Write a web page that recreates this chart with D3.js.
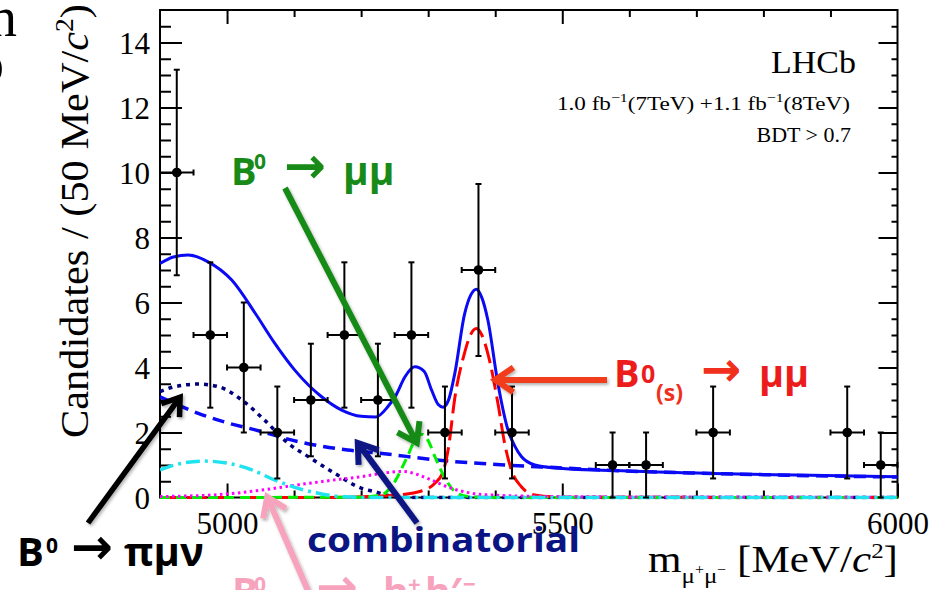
<!DOCTYPE html>
<html>
<head>
<meta charset="utf-8">
<script src="https://cdn.jsdelivr.net/npm/d3@7"></script>
<style>
  html, body { margin: 0; padding: 0; background: #ffffff; }
  svg { display: block; }
</style>
</head>
<body>
<svg id="chart" width="946" height="590"></svg>
<script>
// ---- measured candidates: 50 MeV/c^2 bins ----
const binCentres = [4925, 4975, 5025, 5075, 5125, 5175, 5225, 5275, 5325, 5375, 5425,
                    5475, 5525, 5575, 5625, 5675, 5725, 5775, 5825, 5875, 5925, 5975];
const candidates = [10, 5, 4, 2, 3, 5, 3, 5, 2, 7, 2,
                    0, 0, 1, 1, 0, 2, 0, 0, 0, 2, 1];
const binWidth = 50;

// ---- fit model, [mass, candidates per bin] ----
const totalFit = [[4900,7.20],[4920,7.40],[4942,7.46],[4971,7.26],[5007,6.69],[5042,5.67],
  [5071,4.75],[5101,3.92],[5141,3.10],[5171,2.69],[5200,2.50],[5222,2.48],[5240,2.80],
  [5252,3.15],[5265,3.70],[5280,4.02],[5294,3.88],[5305,3.31],[5315,2.86],[5322,2.78],
  [5330,2.98],[5340,3.85],[5354,5.62],[5364,6.25],[5372,6.41],[5380,6.15],[5389,5.46],
  [5404,3.51],[5419,2.08],[5430,1.55],[5439,1.26],[5459,1.00],[5489,0.91],[5576,0.83],
  [5725,0.74],[5850,0.69],[6000,0.64]];
const combinatorial = [[4900,3.10],[4957,2.59],[5000,2.30],[5042,2.08],[5106,1.72],[5180,1.46],
  [5220,1.38],[5325,1.13],[5415,1.00],[5489,0.92],[5576,0.83],[5725,0.74],[5850,0.68],[6000,0.63]];
const bToPiMuNu = [[4900,3.26],[4922,3.41],[4957,3.49],[4987,3.41],[5022,3.00],[5056,2.38],
  [5091,1.67],[5121,1.26],[5161,0.74],[5201,0.28],[5220,0.18],[5240,0.06],[5260,0.01],
  [5300,0],[6000,0]];
const cyanBkg = [[4900,0.85],[4932,1.05],[4967,1.12],[5002,1.05],[5037,0.85],[5071,0.54],
  [5106,0.28],[5141,0.11],[5176,0.02],[5220,0],[6000,0]];
const bToHH = [[4900,0.03],[4980,0.08],[5020,0.15],[5059,0.25],[5116,0.42],[5168,0.56],
  [5200,0.64],[5240,0.77],[5262,0.80],[5285,0.70],[5300,0.58],[5335,0.28],[5365,0.13],
  [5400,0.07],[5450,0.04],[5550,0.02],[6000,0.01]];
const bdToMuMu = [[4900,0],[5200,0.01],[5230,0.08],[5245,0.33],[5269,1.26],[5280,1.75],
  [5290,1.95],[5300,1.75],[5310,1.26],[5325,0.60],[5340,0.18],[5360,0.03],[5400,0],[6000,0]];
const bsToMuMu = [[4900,0],[5150,0],[5200,0.02],[5255,0.08],[5290,0.20],[5310,0.44],[5322,0.78],
  [5330,1.50],[5340,3.10],[5354,4.43],[5363,5.00],[5372,5.20],[5380,5.00],[5389,4.43],
  [5404,2.90],[5414,1.67],[5424,0.85],[5439,0.33],[5459,0.08],[5500,0.01],[6000,0]];

// ---- axis ticks ----
const xMajorTicks = [5000, 5500, 6000];
const xMinorTicks = [5100, 5200, 5300, 5400, 5600, 5700, 5800, 5900];
const yMajorTicks = [0, 2, 4, 6, 8, 10, 12, 14];
const yMinorTicks = d3.range(0.5, 15, 0.5).filter(v => v % 2 !== 0);

const svg = d3.select("#chart");
const plotLeft = 160, plotRight = 897.5, plotTop = 10, plotBottom = 497.5;

const x = d3.scaleLinear().domain([4900, 6000]).range([plotLeft, plotRight]);
const y = d3.scaleLinear().domain([0, 15]).range([plotBottom, plotTop]);

const serif = "'Liberation Serif', 'Times New Roman', serif";
const sans = "'Open Sans', 'Noto Sans', sans-serif";
const arrowFont = "'DejaVu Sans', sans-serif";

// soft shadow used under the annotation pointers
const defs = svg.append("defs");
const shadow = defs.append("filter").attr("id", "shade")
  .attr("x", "-20%").attr("y", "-20%").attr("width", "140%").attr("height", "140%");
shadow.append("feDropShadow").attr("dx", 1.5).attr("dy", 2).attr("stdDeviation", 1.5)
  .attr("flood-color", "#000").attr("flood-opacity", 0.3);
// the curves may spill a couple of pixels over the x axis, where they sit at zero
defs.append("clipPath").attr("id", "plotArea").append("rect")
  .attr("x", plotLeft).attr("y", plotTop)
  .attr("width", plotRight - plotLeft).attr("height", plotBottom - plotTop + 2);

// ---- frame ----
svg.append("rect").attr("x", plotLeft).attr("y", plotTop)
  .attr("width", plotRight - plotLeft).attr("height", plotBottom - plotTop)
  .attr("fill", "none").attr("stroke", "#000").attr("stroke-width", 2);

// ---- axes (ticks pointing inward, as on a ROOT frame) ----
function styleAxis(g) {
  g.select(".domain").remove();
  g.selectAll(".tick line").attr("stroke", "#000").attr("stroke-width", 2);
  g.selectAll("text").attr("font-family", serif).attr("font-size", 31).attr("fill", "#000");
}
svg.append("g").attr("transform", `translate(${plotLeft},0)`)
  .call(d3.axisLeft(y).tickValues(yMinorTicks).tickSize(-11).tickFormat(""))
  .call(styleAxis);
svg.append("g").attr("transform", `translate(${plotLeft},0)`)
  .call(d3.axisLeft(y).tickValues(yMajorTicks).tickSize(-22).tickPadding(10))
  .call(styleAxis)
  .call(g => g.selectAll("text").attr("dy", "0.36em"));
svg.append("g").attr("transform", `translate(${plotRight},0)`)
  .call(d3.axisRight(y).tickValues(yMinorTicks).tickSize(-6).tickFormat(""))
  .call(styleAxis);
svg.append("g").attr("transform", `translate(${plotRight},0)`)
  .call(d3.axisRight(y).tickValues(yMajorTicks).tickSize(-19).tickFormat(""))
  .call(styleAxis);
svg.append("g").attr("transform", `translate(0,${plotBottom})`)
  .call(d3.axisBottom(x).tickValues(xMinorTicks).tickSize(-7).tickFormat(""))
  .call(styleAxis);
svg.append("g").attr("transform", `translate(0,${plotBottom})`)
  .call(d3.axisBottom(x).tickValues(xMajorTicks).tickSize(-14).tickPadding(14).tickFormat(d3.format("d")))
  .call(styleAxis)
  .call(g => g.selectAll("text").attr("dy", "0.71em"));
svg.append("g").attr("transform", `translate(0,${plotTop})`)
  .call(d3.axisTop(x).tickValues(xMinorTicks).tickSize(-7).tickFormat(""))
  .call(styleAxis);
svg.append("g").attr("transform", `translate(0,${plotTop})`)
  .call(d3.axisTop(x).tickValues(xMajorTicks.filter(v => v < 6000)).tickSize(-14).tickFormat(""))
  .call(styleAxis);

// ---- fit components ----
const line = d3.line().x(d => x(d[0])).y(d => y(d[1])).curve(d3.curveMonotoneX);
const curves = svg.append("g").attr("clip-path", "url(#plotArea)").attr("fill", "none");
const drawCurve = (data, colour, width, dash) =>
  curves.append("path").datum(data).attr("d", line)
    .attr("stroke", colour).attr("stroke-width", width)
    .attr("stroke-dasharray", dash || null);

drawCurve(totalFit, "#0a0af5", 3);
drawCurve(combinatorial, "#0a0af5", 3.5, "12,7");
drawCurve(bToPiMuNu, "#00007e", 3.5, "4,5");
drawCurve(bsToMuMu, "#ff0000", 3, "20,7");
drawCurve(bdToMuMu, "#00f000", 3, "10,6");
drawCurve(bToHH, "#ff00ff", 3, "2.5,3.5");
drawCurve(cyanBkg, "#1fe3ef", 3.5, "14,5,3,5");

// ---- data points with sqrt(N) errors ----
const points = binCentres.map((m, i) => ({ m, n: candidates[i] })).filter(d => d.n > 0);
const dataG = svg.append("g").attr("stroke", "#000").attr("stroke-width", 2);
const cap = 3;
points.forEach(d => {
  const cx = x(d.m), cy = y(d.n), e = Math.sqrt(d.n);
  const x0 = x(d.m - binWidth / 2), x1 = x(d.m + binWidth / 2);
  const yHi = y(d.n + e), yLo = y(d.n - e);
  dataG.append("line").attr("x1", x0).attr("x2", x1).attr("y1", cy).attr("y2", cy);
  dataG.append("line").attr("x1", cx).attr("x2", cx).attr("y1", yHi).attr("y2", yLo);
  dataG.append("line").attr("x1", x0).attr("x2", x0).attr("y1", cy - cap).attr("y2", cy + cap);
  dataG.append("line").attr("x1", x1).attr("x2", x1).attr("y1", cy - cap).attr("y2", cy + cap);
  dataG.append("line").attr("x1", cx - cap).attr("x2", cx + cap).attr("y1", yHi).attr("y2", yHi);
  dataG.append("line").attr("x1", cx - cap).attr("x2", cx + cap).attr("y1", yLo).attr("y2", yLo);
});
svg.append("g").selectAll("circle").data(points).join("circle")
  .attr("cx", d => x(d.m)).attr("cy", d => y(d.n)).attr("r", 4.8).attr("fill", "#000");

// ---- axis titles ----
const yTitle = svg.append("text").attr("transform", "translate(88,438) rotate(-90)")
  .attr("font-family", serif).attr("font-size", 40).attr("fill", "#000")
  .attr("textLength", 434).attr("lengthAdjust", "spacingAndGlyphs");
yTitle.append("tspan").text("Candidates / (50 MeV/");
yTitle.append("tspan").attr("font-style", "italic").text("c");
yTitle.append("tspan").attr("font-size", 26).attr("dy", -15).text("2");
yTitle.append("tspan").attr("dy", 15).text(")");

const xTitle = svg.append("text").attr("x", 648).attr("y", 572)
  .attr("font-family", serif).attr("font-size", 38).attr("fill", "#000")
  .attr("textLength", 250).attr("lengthAdjust", "spacingAndGlyphs");
xTitle.append("tspan").text("m");
xTitle.append("tspan").attr("font-size", 22).attr("dy", 11).text("μ");
xTitle.append("tspan").attr("font-size", 14).attr("dy", -9).text("+");
xTitle.append("tspan").attr("font-size", 22).attr("dy", 9).text("μ");
xTitle.append("tspan").attr("font-size", 14).attr("dy", -9).text("−");
xTitle.append("tspan").attr("dy", -2).text(" [MeV/");
xTitle.append("tspan").attr("font-style", "italic").text("c");
xTitle.append("tspan").attr("font-size", 22).attr("dy", -14).text("2");
xTitle.append("tspan").attr("dy", 14).text("]");

// ---- experiment labels ----
svg.append("text").attr("x", 856).attr("y", 73).attr("text-anchor", "end")
  .attr("font-family", serif).attr("font-size", 31)
  .attr("textLength", 85).attr("lengthAdjust", "spacingAndGlyphs").text("LHCb");
const lumi = svg.append("text").attr("x", 850).attr("y", 110).attr("text-anchor", "end")
  .attr("font-family", serif).attr("font-size", 19)
  .attr("textLength", 293).attr("lengthAdjust", "spacingAndGlyphs");
lumi.append("tspan").text("1.0 fb");
lumi.append("tspan").attr("font-size", 13).attr("dy", -8).text("−1");
lumi.append("tspan").attr("dy", 8).text("(7TeV) +1.1 fb");
lumi.append("tspan").attr("font-size", 13).attr("dy", -8).text("−1");
lumi.append("tspan").attr("dy", 8).text("(8TeV)");
svg.append("text").attr("x", 851).attr("y", 142).attr("text-anchor", "end")
  .attr("font-family", serif).attr("font-size", 22).text("BDT > 0.7");

// ---- top-left fragments of neighbouring slide text ----
svg.append("text").attr("x", 17).attr("y", 36).attr("text-anchor", "end")
  .attr("font-family", serif).attr("font-size", 56).text("n");
svg.append("text").attr("x", 4).attr("y", 82).attr("text-anchor", "end")
  .attr("font-family", serif).attr("font-size", 56).text("o");

// ---- annotation pointers ----
function pointer(x1, y1, x2, y2, colour, width, head) {
  const a = Math.atan2(y2 - y1, x2 - x1), spread = 0.6;
  const ax = x2 - head * Math.cos(a - spread), ay = y2 - head * Math.sin(a - spread);
  const bx = x2 - head * Math.cos(a + spread), by = y2 - head * Math.sin(a + spread);
  svg.append("path")
    .attr("d", `M${x1},${y1}L${x2},${y2}M${ax},${ay}L${x2},${y2}L${bx},${by}`)
    .attr("fill", "none").attr("stroke", colour).attr("stroke-width", width)
    .attr("stroke-linejoin", "miter").attr("filter", "url(#shade)");
}
pointer(88, 523, x(4930), y(3.09), "#000000", 5.5, 20);
pointer(285, 188, x(5283), y(1.68), "#188a18", 6, 22);
pointer(417, 523, x(5195), y(1.68), "#0a1482", 6, 22);
pointer(607, 380, x(5400), y(3.62), "#f23c1c", 6, 22);
pointer(312, 600, x(5060), y(0.02), "#f7a3bd", 6, 22);

// ---- annotation labels ----
function label(colour, parts) {
  const t = svg.append("text").attr("fill", colour).attr("font-family", sans).attr("font-weight", 700);
  parts.forEach(p => {
    const s = t.append("tspan").attr("x", p.x).attr("y", p.y).attr("font-size", p.size).text(p.text);
    if (p.font) s.attr("font-family", p.font);
    if (p.fill) s.attr("fill", p.fill);
  });
  return t;
}
label("#188a18", [
  { text: "B", x: 231, y: 185, size: 38 },
  { text: "0", x: 254, y: 169, size: 21 },
  { text: "→", x: 284, y: 183, size: 50, font: arrowFont },
  { text: "μμ", x: 343, y: 185, size: 39 }
]);
label("#ec1c1c", [
  { text: "B", x: 614, y: 387, size: 38 },
  { text: "0", x: 641, y: 383, size: 25 },
  { text: "(s)", x: 656, y: 401, size: 23, fill: "#f0301c" },
  { text: "→", x: 701, y: 386, size: 48, font: arrowFont, fill: "#f0301c" },
  { text: "μμ", x: 759, y: 387, size: 38 }
]);
label("#000000", [
  { text: "B", x: 17, y: 566, size: 40 },
  { text: "0", x: 46, y: 553, size: 21 },
  { text: "→", x: 71, y: 564, size: 50, font: arrowFont },
  { text: "πμν", x: 124, y: 566, size: 40 }
]);
svg.append("text").attr("x", 307).attr("y", 552).attr("fill", "#0a1482")
  .attr("font-family", sans).attr("font-weight", 700).attr("font-size", 34)
  .attr("textLength", 273).attr("lengthAdjust", "spacingAndGlyphs").text("combinatorial");
label("#f7a3bd", [
  { text: "B", x: 232, y: 606, size: 39 },
  { text: "0", x: 254, y: 592, size: 21 },
  { text: "→", x: 316, y: 604, size: 50, font: arrowFont },
  { text: "h", x: 383, y: 606, size: 39 },
  { text: "+", x: 408, y: 592, size: 22 },
  { text: "h", x: 425, y: 606, size: 39 },
  { text: "′", x: 450, y: 606, size: 39 },
  { text: "−", x: 463, y: 592, size: 22 }
]);
</script>
</body>
</html>
